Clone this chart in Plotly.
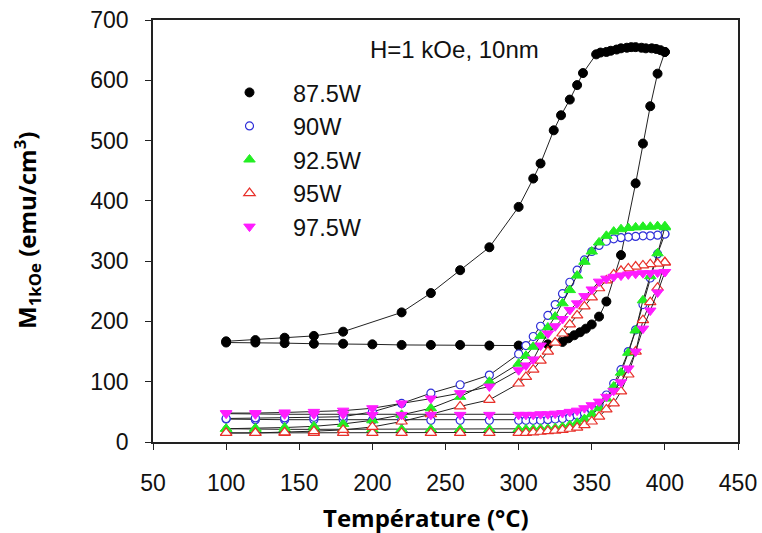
import plotly.graph_objects as go

# ---------------- data ----------------
# 87.5W (black filled circles): heating branch then cooling branch
t_875_heat = [100, 120, 140, 160, 180, 200, 220, 240, 260, 280, 300, 320, 330, 334, 338, 342, 346, 350, 355, 360, 370, 380, 385, 390, 395, 400]
m_875_heat = [165, 165, 164, 163, 163, 162, 161, 161, 161, 160, 160, 162, 166, 172, 177, 182, 188, 195, 208, 233, 310, 429, 495, 557, 611, 647]
t_875_cool = [400, 397, 394, 391, 387, 384, 380, 377, 374, 370, 367, 363, 360, 356, 353, 344, 340, 335, 329, 324, 315, 310, 300, 280, 260, 240, 220, 180, 160, 140, 120, 100]
m_875_cool = [647, 650, 652, 653, 653, 654, 655, 655, 654, 653, 651, 649, 647, 646, 643, 612, 592, 568, 542, 517, 462, 437, 390, 323, 285, 247, 215, 183, 176, 173, 169, 167]

# common temperature grids for the other series
t_heat = [100, 120, 140, 160, 180, 200, 220, 240, 260, 280, 300, 305, 310, 315, 320, 325, 330, 335, 340, 345, 350, 355, 360, 365, 370, 375, 380, 385, 390, 395, 400]
t_cool = [400, 395, 390, 385, 380, 375, 370, 365, 360, 355, 350, 345, 340, 335, 330, 325, 320, 315, 310, 305, 300, 280, 260, 240, 220, 200, 180, 160, 140, 120, 100]

# 90W (blue open circles)
m_90_heat = [38, 37, 37, 37, 37, 36, 36, 36, 36, 36, 36, 36, 36, 36, 37, 38, 39, 41, 44, 48, 54, 62, 78, 97, 120, 150, 186, 228, 272, 312, 345]
m_90_cool = [345, 343, 342, 342, 341, 340, 339, 337, 333, 326, 316, 302, 285, 265, 246, 228, 210, 192, 175, 160, 146, 111, 95, 81, 64, 50, 42, 41, 40, 40, 39]

# 92.5W (green filled triangles up)
m_925_heat = [22, 21, 21, 21, 21, 21, 21, 21, 21, 21, 21, 21, 21, 22, 22, 23, 25, 28, 32, 38, 46, 56, 72, 92, 115, 148, 185, 235, 275, 313, 356]
m_925_cool = [358, 358, 357, 357, 356, 355, 353, 349, 342, 331, 316, 299, 276, 252, 230, 208, 190, 176, 158, 143, 130, 100, 75, 56, 45, 36, 30, 26, 24, 23, 22]

# 95W (red open triangles up)
m_95_heat = [15, 15, 15, 15, 15, 15, 15, 15, 15, 15, 15, 15, 16, 17, 18, 19, 20, 22, 24, 28, 34, 42, 54, 64, 84, 112, 150, 202, 232, 256, 298]
m_95_cool = [298, 296, 295, 293, 291, 288, 284, 278, 268, 255, 240, 225, 210, 195, 180, 165, 150, 135, 120, 108, 97, 70, 59, 46, 34, 25, 20, 18, 16, 15, 15]

# 97.5W (magenta filled triangles down)
m_975_heat = [47, 46, 46, 46, 46, 45, 45, 45, 45, 45, 45, 45, 45, 46, 46, 47, 48, 50, 52, 56, 61, 67, 75, 85, 99, 122, 150, 188, 218, 248, 282]
m_975_cool = [282, 281, 280, 280, 279, 278, 276, 274, 271, 266, 253, 242, 230, 219, 204, 192, 180, 160, 137, 127, 119, 92, 81, 72, 64, 56, 52, 50, 49, 48, 48]

series_names = ["87.5W", "90W", "92.5W", "95W", "97.5W"]
x_ticks = [50, 100, 150, 200, 250, 300, 350, 400, 450]
y_ticks = [0, 100, 200, 300, 400, 500, 600, 700]

# ---------------- styles ----------------
styles = [
    dict(symbol="circle", size=9, color="black", line=dict(color="black", width=1)),
    dict(symbol="circle", size=8, color="white", line=dict(color="#2f2fd8", width=1.2)),
    dict(symbol="triangle-up", size=10, color="#22ee22", line=dict(color="#22ee22", width=1)),
    dict(symbol="triangle-up", size=10, color="white", line=dict(color="#e8302a", width=1.2)),
    dict(symbol="triangle-down", size=10, color="#ff1cff", line=dict(color="#ff1cff", width=1)),
]

xs = [
    t_875_heat + t_875_cool,
    t_heat + t_cool,
    t_heat + t_cool,
    t_heat + t_cool,
    t_heat + t_cool,
]
ys = [
    m_875_heat + m_875_cool,
    m_90_heat + m_90_cool,
    m_925_heat + m_925_cool,
    m_95_heat + m_95_cool,
    m_975_heat + m_975_cool,
]

fig = go.Figure()
for i in range(5):
    fig.add_trace(go.Scatter(
        x=xs[i], y=ys[i], mode="lines+markers",
        line=dict(color="#222222", width=1),
        marker=styles[i], showlegend=False, hoverinfo="x+y",
    ))
# legend-only entries (markers only)
for i in range(5):
    fig.add_trace(go.Scatter(
        x=[None], y=[None], mode="markers", name=series_names[i],
        marker=styles[i], showlegend=True,
    ))

axis_font = dict(family="Liberation Sans, Arial, sans-serif", size=23, color="#111111")

fig.update_layout(
    template="none",
    width=762, height=533,
    margin=dict(l=153, r=24, t=20, b=91, autoexpand=False),
    paper_bgcolor="white", plot_bgcolor="white",
    showlegend=True,
    legend=dict(
        x=0.0906, y=0.88, xanchor="left", yanchor="top",
        bgcolor="rgba(0,0,0,0)", borderwidth=0,
        font=dict(family="Liberation Sans, Arial, sans-serif", size=23.5, color="#111111"),
        itemsizing="trace", tracegroupgap=0, itemwidth=77,
    ),
    font=axis_font,
)
fig.update_xaxes(
    range=[50, 450], tickvals=x_ticks, ticktext=[str(v) for v in x_ticks],
    showgrid=False, zeroline=False, automargin=False,
    showline=True, linecolor="#222222", linewidth=1.5, mirror=True,
    ticks="outside", ticklen=6, tickwidth=1.2, tickcolor="#222222",
    ticklabelstandoff=14, tickfont=axis_font,
)
fig.update_yaxes(
    range=[0, 700], tickvals=y_ticks, ticktext=[str(v) for v in y_ticks],
    showgrid=False, zeroline=False, automargin=False,
    showline=True, linecolor="#222222", linewidth=1.5, mirror=True,
    ticks="outside", ticklen=6, tickwidth=1.2, tickcolor="#222222",
    ticklabelstandoff=12, tickfont=axis_font,
)

title_font = dict(family="Open Sans, Lato, sans-serif", size=24, color="black")
fig.add_annotation(
    text="<b>Température (°C)</b>", xref="paper", yref="paper",
    x=0.467, y=0, yshift=-75, xanchor="center", yanchor="middle",
    showarrow=False, font=title_font,
)
fig.add_annotation(
    text="<b>M<sub>1kOe</sub> (emu/cm<sup>3</sup>)</b>", xref="paper", yref="paper",
    x=0, xshift=-126, y=0.5, xanchor="center", yanchor="middle", textangle=-90,
    showarrow=False, font=title_font,
)
fig.add_annotation(
    text="H=1 kOe, 10nm", xref="paper", yref="paper",
    x=0.516, y=0.929, xanchor="center", yanchor="middle",
    showarrow=False, font=dict(family="Liberation Sans, Arial, sans-serif", size=24, color="#111111"),
)

fig.write_html(
    "out.html",
    config={"displayModeBar": False},
    post_script="document.body.style.margin='0';document.body.style.overflow='hidden';",
)
